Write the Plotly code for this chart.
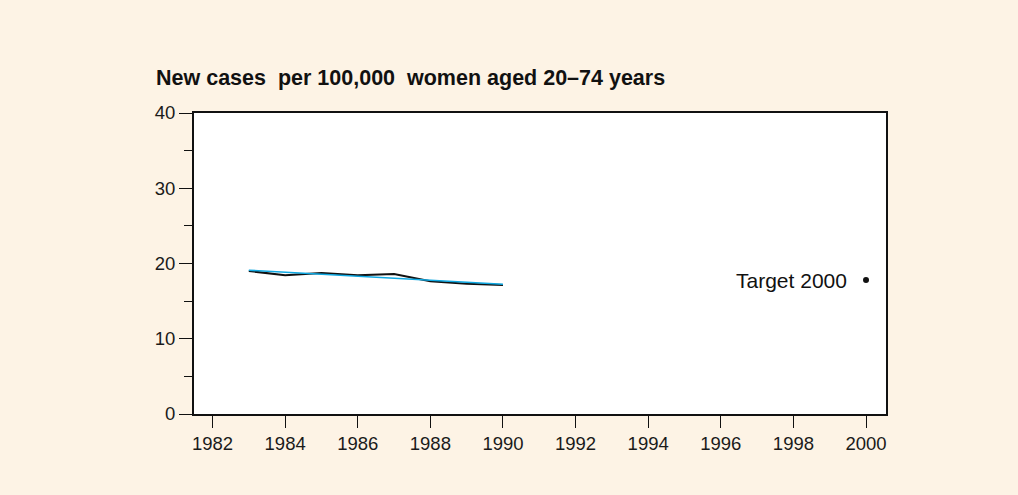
import plotly.graph_objects as go

years = [1983, 1984, 1985, 1986, 1987, 1988, 1989, 1990]
observed = [19.0, 18.45, 18.75, 18.45, 18.6, 17.65, 17.3, 17.15]
trend_years = [1983, 1990]
trend = [19.1, 17.25]
target_year = [2000]
target_value = [17.8]
target_label = "Target 2000"
title_text = "New cases  per 100,000  women aged 20–74 years"
x_ticks = list(range(1982, 2001, 2))
y_ticks = [0, 10, 20, 30, 40]

BG = "#FDF3E5"
FONT = "Liberation Sans, Arial, sans-serif"

fig = go.Figure()
fig.add_trace(go.Scatter(x=years, y=observed, mode="lines",
                         line=dict(color="#111111", width=2), showlegend=False, hoverinfo="skip"))
fig.add_trace(go.Scatter(x=trend_years, y=trend, mode="lines",
                         line=dict(color="#0FA8E2", width=1.6), showlegend=False, hoverinfo="skip"))
fig.add_trace(go.Scatter(x=target_year, y=target_value, mode="markers",
                         marker=dict(color="#111111", size=6), showlegend=False, hoverinfo="skip"))

fig.add_annotation(x=target_year[0], y=target_value[0], xref="x", yref="y",
                   text=target_label, showarrow=False, xanchor="right", yanchor="middle",
                   xshift=-17, font=dict(family=FONT, size=21, color="#111111"))

fig.add_annotation(x=(154 - 194) / 692, y=(414 - 78) / 301, xref="paper", yref="paper",
                   text="<b>" + title_text + "</b>", showarrow=False,
                   xanchor="left", yanchor="middle",
                   font=dict(family=FONT, size=21.5, color="#111111"))

fig.update_layout(
    width=1018, height=495,
    paper_bgcolor=BG, plot_bgcolor="white",
    margin=dict(l=194, r=132, t=113, b=81),
    font=dict(family=FONT, size=18.5, color="#1a1a1a"),
    showlegend=False,
)
fig.update_xaxes(range=[1981.49, 2000.55], tickvals=x_ticks, ticktext=[str(v) for v in x_ticks],
                 ticks="outside", ticklen=12, tickwidth=1, tickcolor="#111111",
                 showline=True, linewidth=2, linecolor="#111111", mirror=True,
                 showgrid=False, zeroline=False)
fig.update_yaxes(range=[0, 40], tickvals=y_ticks, ticktext=[str(v) for v in y_ticks],
                 ticks="outside", ticklen=13, tickwidth=1, tickcolor="#111111",
                 minor=dict(dtick=5, ticks="outside", ticklen=8, tickwidth=1, tickcolor="#111111", showgrid=False),
                 showline=True, linewidth=2, linecolor="#111111", mirror=True,
                 showgrid=False, zeroline=False)

fig.write_html("out.html", config={"displayModeBar": False},
               post_script="document.body.style.margin='0';document.body.style.background='" + BG + "';")
